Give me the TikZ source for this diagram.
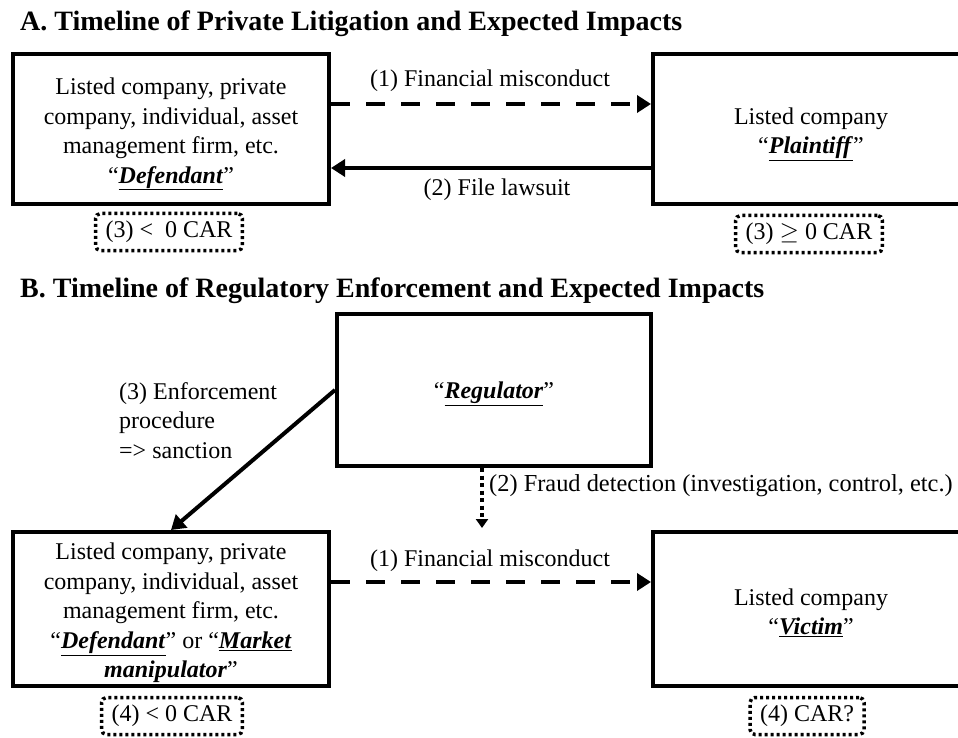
\documentclass[tikz,border=0pt]{standalone}
\usepackage{fontspec}
\setmainfont{Liberation Serif}
\usetikzlibrary{arrows.meta}
\newcommand{\kw}[1]{\underline{\textbf{\textit{#1}}}}
\begin{document}
\begin{tikzpicture}[x=1pt,y=-1pt,
  txt/.style={font=\fontsize{24}{29.5}\selectfont, inner sep=0pt},
  boxtxt/.style={txt, align=center},
  title/.style={font=\fontsize{28}{32}\selectfont\bfseries, inner sep=0pt, anchor=base west},
  box/.style={draw, line width=4pt, minimum width=316pt, minimum height=150pt, inner sep=0pt},
  carbox/.style={draw, line width=3.5pt, dash pattern=on 3pt off 3pt, rounded corners=5pt, inner xsep=10pt, minimum height=37pt, font=\fontsize{24}{28}\selectfont},
  head/.style={-{Triangle[length=14pt,width=17pt]}},
  dasharrow/.style={head, line width=4pt, dash pattern=on 19pt off 16pt},
  solidarrow/.style={head, line width=4pt},
  dotarrow/.style={-{Triangle[length=9pt,width=12pt]}, line width=4pt, dash pattern=on 4pt off 3.5pt}
]
\useasboundingbox (0,0) rectangle (958,738);
\clip (0,0) rectangle (958,738);
\fill[white] (0,0) rectangle (958,738);

% Part A
\node[title] (titA) at (20,31) {A. Timeline of Private Litigation and Expected Impacts};
\node[box] (defA) at (171,129) {};
\node[boxtxt] (defAt) at ([yshift=-5pt]defA.center) {Listed company, private\\company, individual, asset\\management firm, etc.\\“\kw{Defendant}”};
\node[box] (plA) at (811,129) {};
\node[boxtxt] (plAt) at ([yshift=-5pt]plA.center) {Listed company\\“\kw{Plaintiff}”};
\node[carbox] (carA1) at (169,232) {(3) <\ \ 0 CAR};
\node[carbox] (carA2) at (809,234) {(3) $\geq$ 0 CAR};
\draw[dasharrow] (defA.east |- 0,104) -- (plA.west |- 0,104);
\draw[solidarrow] (plA.west |- 0,168) -- (defA.east |- 0,168);
\node[txt, anchor=base] (lblA1) at (490,87) {(1) Financial misconduct};
\node[txt, anchor=base] (lblA2) at (497,196) {(2) File lawsuit};

% Part B
\node[title] (titB) at (20,297) {B. Timeline of Regulatory Enforcement and Expected Impacts};
\node[box, minimum width=314pt, minimum height=152pt] (reg) at (494,390) {};
\node[boxtxt] (regt) at ([yshift=-4pt]reg.center) {“\kw{Regulator}”};
\node[box, minimum height=154pt] (defB) at (171,609) {};
\node[boxtxt] (defBt) at ([yshift=-5pt]defB.center) {Listed company, private\\company, individual, asset\\management firm, etc.\\“\kw{Defendant}” or “\kw{Market}\\\kw{manipulator}”};
\node[box, minimum height=154pt] (vic) at (811,609) {};
\node[boxtxt] (vict) at ([yshift=-4pt]vic.center) {Listed company\\“\kw{Victim}”};
\node[carbox] (carB1) at (172,716) {(4) < 0 CAR};
\node[carbox] (carB2) at (807,716) {(4) CAR?};
\draw[dasharrow] (defB.east |- 0,582) -- (vic.west |- 0,582);
\node[txt, anchor=base] (lblB1) at (490,566) {(1) Financial misconduct};
\draw[solidarrow] (reg.west) -- (defB.north);
\node[txt, anchor=base west, align=left] (lblB3) at (119,458) {(3) Enforcement\\procedure\\=> sanction};
\coordinate (fdEnd) at (482,528);
\draw[dotarrow] (reg.south -| fdEnd) -- (fdEnd);
\node[txt, anchor=base west, font=\fontsize{24.4}{29.5}\selectfont] (lblB2) at (489,491) {(2) Fraud detection (investigation, control, etc.)};
\end{tikzpicture}
\end{document}
